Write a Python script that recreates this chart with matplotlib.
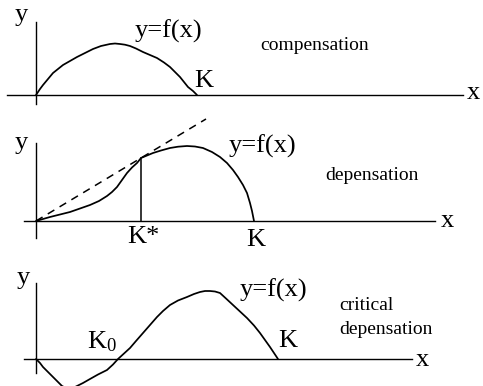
import matplotlib
matplotlib.use('Agg')
import matplotlib.pyplot as plt

plt.rcParams['font.family'] = 'Liberation Serif'
plt.rcParams['mathtext.fontset'] = 'custom'
plt.rcParams['mathtext.rm'] = 'Liberation Serif'
plt.rcParams['mathtext.it'] = 'Liberation Serif'

# compensation: growth curve f(x), single hump from 0 to K
comp_x = [0, 4, 7, 12, 17, 22, 27, 34, 41, 49, 57, 65, 74, 79, 84, 89, 94, 100, 107, 114, 121, 128, 134, 139, 144, 148, 152, 157, 161]
comp_y = [0, 6, 10, 16, 22, 26, 30, 34, 38, 42, 46, 49, 51, 51.5, 51, 50.3, 49, 46.5, 43, 40, 37, 32.5, 28, 23, 18, 13, 8, 4, 0]

# depensation: convex start, tangent line from origin touching at K*
dep_x = [0, 7, 14, 24, 34, 44, 54, 63, 71, 76, 81, 86, 91, 96, 101, 105, 111, 117, 125, 134, 142, 151, 159, 167, 176, 184, 191, 197, 202, 207, 211, 214, 216, 218]
dep_y = [0, 2, 4, 6.5, 9, 12.5, 16, 20, 25, 29, 34, 41, 48, 53.5, 58, 63, 65.5, 68, 70.5, 73, 74.3, 75, 74.5, 73, 69, 64, 58, 51, 44, 36, 28, 18, 10, 0]
tangent_x = [0, 170]
tangent_y = [0, 102]
kstar = 105

# critical depensation: negative below K0
crit_x = [0, 4, 7, 12, 17, 22, 26, 30, 33, 37, 41, 47, 54, 62, 71, 77, 82, 88, 94, 100, 107, 114, 121, 127, 134, 142, 151, 158, 164, 169, 174, 179, 184, 190, 197, 204, 211, 218, 224, 229, 234, 238, 242]
crit_y = [0, -4, -8, -13, -18, -23, -27, -29, -30, -29, -27, -24, -20, -15.5, -11, -5.5, 0, 5.5, 11, 18, 26, 34, 42, 48, 54, 58.5, 62, 65, 67, 68, 68, 67.5, 66, 60.5, 54, 47.5, 41, 33.5, 26, 19, 12, 6, 0]

W, H = 483, 386
fig = plt.figure(figsize=(W / 100, H / 100), dpi=100)


def panel(origin, xaxis, yaxis):
    ax = fig.add_axes([0, 0, 1, 1])
    ax.set_xlim(-36, W - 36)
    ax.set_ylim(-(H - origin), origin)
    ax.axis('off')
    ax.patch.set_alpha(0)
    ax.plot(xaxis, [0, 0], color='black', lw=1.0)
    ax.plot([0, 0], yaxis, color='black', lw=1.0)
    return ax


big = 19
small = 14
curve = dict(color='black', lw=1.25, solid_joinstyle='round', solid_capstyle='round')

# top panel
ax1 = panel(95, [-29, 427], [-9, 73])
ax1.plot(comp_x, comp_y, **curve)
ax1.text(-15, 80, 'y', fontsize=big, ha='center', va='center')
ax1.text(132, 64, 'y=f(x)', fontsize=big, ha='center', va='center')
ax1.text(168, 14, 'K', fontsize=big, ha='center', va='center')
ax1.text(437, 2, 'x', fontsize=big, ha='center', va='center')
ax1.text(279, 50, 'compensation', fontsize=small, ha='center', va='center')

# middle panel
ax2 = panel(221, [-12, 399], [-17, 78])
ax2.plot(dep_x, dep_y, **curve)
ax2.plot(tangent_x, tangent_y, color='black', lw=1.1, ls=(0, (5, 4)))
ax2.plot([kstar, kstar], [0, 63], color='black', lw=1.1)
ax2.text(-15, 78, 'y', fontsize=big, ha='center', va='center')
ax2.text(226, 75, 'y=f(x)', fontsize=big, ha='center', va='center')
ax2.text(336, 45, 'depensation', fontsize=small, ha='center', va='center')
ax2.text(107, -16, 'K*', fontsize=big, ha='center', va='center')
ax2.text(220, -19, 'K', fontsize=big, ha='center', va='center')
ax2.text(411, 0, 'x', fontsize=big, ha='center', va='center')

# bottom panel
ax3 = panel(359, [-12, 376], [-14, 76])
ax3.plot(crit_x, crit_y, **curve)
ax3.text(-13, 81, 'y', fontsize=big, ha='center', va='center')
ax3.text(237, 69, 'y=f(x)', fontsize=big, ha='center', va='center')
ax3.text(303, 54, 'critical', fontsize=small, ha='left', va='center')
ax3.text(303, 29, 'depensation', fontsize=small, ha='left', va='center')
ax3.text(66, 17, r'K$_{0}$', fontsize=big, ha='center', va='center')
ax3.text(252, 18, 'K', fontsize=big, ha='center', va='center')
ax3.text(386, -1, 'x', fontsize=big, ha='center', va='center')

fig.savefig('out.png', dpi=100)
